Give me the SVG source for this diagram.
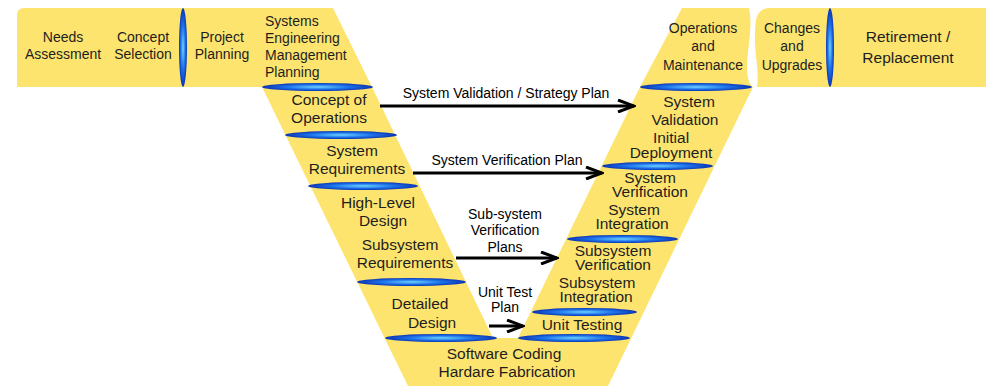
<svg xmlns="http://www.w3.org/2000/svg" width="986" height="386" viewBox="0 0 986 386">
<defs>
<radialGradient id="blue" cx="0.5" cy="0.5" r="0.5">
<stop offset="0" stop-color="#6fd2ff"/>
<stop offset="0.55" stop-color="#1d74ea"/>
<stop offset="1" stop-color="#0a34b4"/>
</radialGradient>
<marker id="head" viewBox="0 0 20 14" refX="18" refY="7" markerWidth="20" markerHeight="14" markerUnits="userSpaceOnUse" orient="auto">
<path d="M2,1 L18,7 L2,13" fill="none" stroke="#000" stroke-width="3"/>
</marker>
</defs>
<style>
.band{fill:#fde46f;stroke:none}
.sep{fill:url(#blue)}
text{font-family:"Liberation Sans",Arial,sans-serif;fill:#1e1e1e;text-anchor:middle}
text.st{text-anchor:start}
.s14{font-size:14px}
.s15{font-size:15.5px}
.lbl{font-size:14px;fill:#000}
.conn{stroke:#000;stroke-width:3;fill:none;marker-end:url(#head)}
</style>
<rect width="986" height="386" fill="#fff"/>
<g id="background">
<path class="band" d="M17,14 Q18,8 24,8 L333,8 L372,87 L493,338 L518,338 L640,87 L682,8 L749,8 C754,30 744,60 748,78 Q750,86 753,87 L608,386 L408,386 L262,87 L17,87 Z"/>
<path class="band" d="M757,87 C760,70 752,45 756,20 Q758,9 768,8 L986,8 L986,87 Z"/>
</g>
<g id="separators">
<ellipse class="sep" cx="183" cy="47.5" rx="4" ry="39.5"/>
<ellipse class="sep" cx="830" cy="47.5" rx="4" ry="39.5"/>
<ellipse class="sep" cx="317.5" cy="87" rx="55.5" ry="4"/>
<ellipse class="sep" cx="341" cy="135" rx="56" ry="4"/>
<ellipse class="sep" cx="363" cy="186" rx="55" ry="4"/>
<ellipse class="sep" cx="411.5" cy="282" rx="54.5" ry="4"/>
<ellipse class="sep" cx="441" cy="338" rx="56" ry="4"/>
<ellipse class="sep" cx="696" cy="87" rx="56" ry="4"/>
<ellipse class="sep" cx="657.5" cy="166" rx="55.5" ry="4"/>
<ellipse class="sep" cx="622.5" cy="239" rx="55.5" ry="4"/>
<ellipse class="sep" cx="584.5" cy="312" rx="52.5" ry="4"/>
<ellipse class="sep" cx="574" cy="338" rx="56" ry="4"/>
</g>
<g id="needs-assessment"><text class="s14" x="63" y="42">Needs</text><text class="s14" x="63" y="59">Assessment</text></g>
<g id="concept-selection"><text class="s14" x="143" y="42">Concept</text><text class="s14" x="143" y="59">Selection</text></g>
<g id="project-planning"><text class="s14" x="222" y="42">Project</text><text class="s14" x="222" y="59">Planning</text></g>
<g id="sem-planning"><text class="s14 st" x="265" y="26">Systems</text><text class="s14 st" x="265" y="43">Engineering</text><text class="s14 st" x="265" y="60">Management</text><text class="s14 st" x="265" y="77">Planning</text></g>
<g id="operations-maintenance"><text class="s14" x="703" y="33">Operations</text><text class="s14" x="703" y="51">and</text><text class="s14" x="703" y="70">Maintenance</text></g>
<g id="changes-upgrades"><text class="s14" x="792" y="33">Changes</text><text class="s14" x="792" y="51">and</text><text class="s14" x="792" y="70">Upgrades</text></g>
<g id="retirement"><text class="s15" x="908" y="42">Retirement /</text><text class="s15" x="908" y="63">Replacement</text></g>
<g id="concept-of-operations"><text class="s15" x="329" y="105">Concept of</text><text class="s15" x="329" y="123">Operations</text></g>
<g id="system-requirements"><text class="s15" x="352" y="156">System</text><text class="s15" x="357" y="174">Requirements</text></g>
<g id="high-level-design"><text class="s15" x="378" y="208">High-Level</text><text class="s15" x="383" y="226">Design</text></g>
<g id="subsystem-requirements"><text class="s15" x="400" y="250">Subsystem</text><text class="s15" x="405" y="268">Requirements</text></g>
<g id="detailed-design"><text class="s15" x="420" y="309">Detailed</text><text class="s15" x="432" y="328">Design</text></g>
<g id="software-coding"><text class="s15" x="504" y="359">Software Coding</text><text class="s15" x="507" y="377">Hardare Fabrication</text></g>
<g id="system-validation"><text class="s15" x="689" y="107">System</text><text class="s15" x="685" y="125">Validation</text></g>
<g id="initial-deployment"><text class="s15" x="671" y="143">Initial</text><text class="s15" x="671" y="158">Deployment</text></g>
<g id="system-verification"><text class="s15" x="650" y="183">System</text><text class="s15" x="650" y="197">Verification</text></g>
<g id="system-integration"><text class="s15" x="634" y="215">System</text><text class="s15" x="632" y="229">Integration</text></g>
<g id="subsystem-verification"><text class="s15" x="613" y="256">Subsystem</text><text class="s15" x="613" y="270">Verification</text></g>
<g id="subsystem-integration"><text class="s15" x="597" y="288">Subsystem</text><text class="s15" x="596" y="302">Integration</text></g>
<g id="unit-testing"><text class="s15" x="582" y="330">Unit Testing</text></g>
<g id="connectors">
<path class="conn" d="M380,106 L634,106"/>
<text class="lbl" x="506" y="98">System Validation / Strategy Plan</text>
<path class="conn" d="M413,173 L602,173"/>
<text class="lbl" x="507" y="165">System Verification Plan</text>
<path class="conn" d="M456,258 L557,258"/>
<text class="lbl" x="505" y="219">Sub-system</text>
<text class="lbl" x="505" y="235">Verification</text>
<text class="lbl" x="505" y="252">Plans</text>
<path class="conn" d="M489,326 L523,326"/>
<text class="lbl" x="505" y="297">Unit Test</text>
<text class="lbl" x="505" y="312">Plan</text>
</g>
</svg>
